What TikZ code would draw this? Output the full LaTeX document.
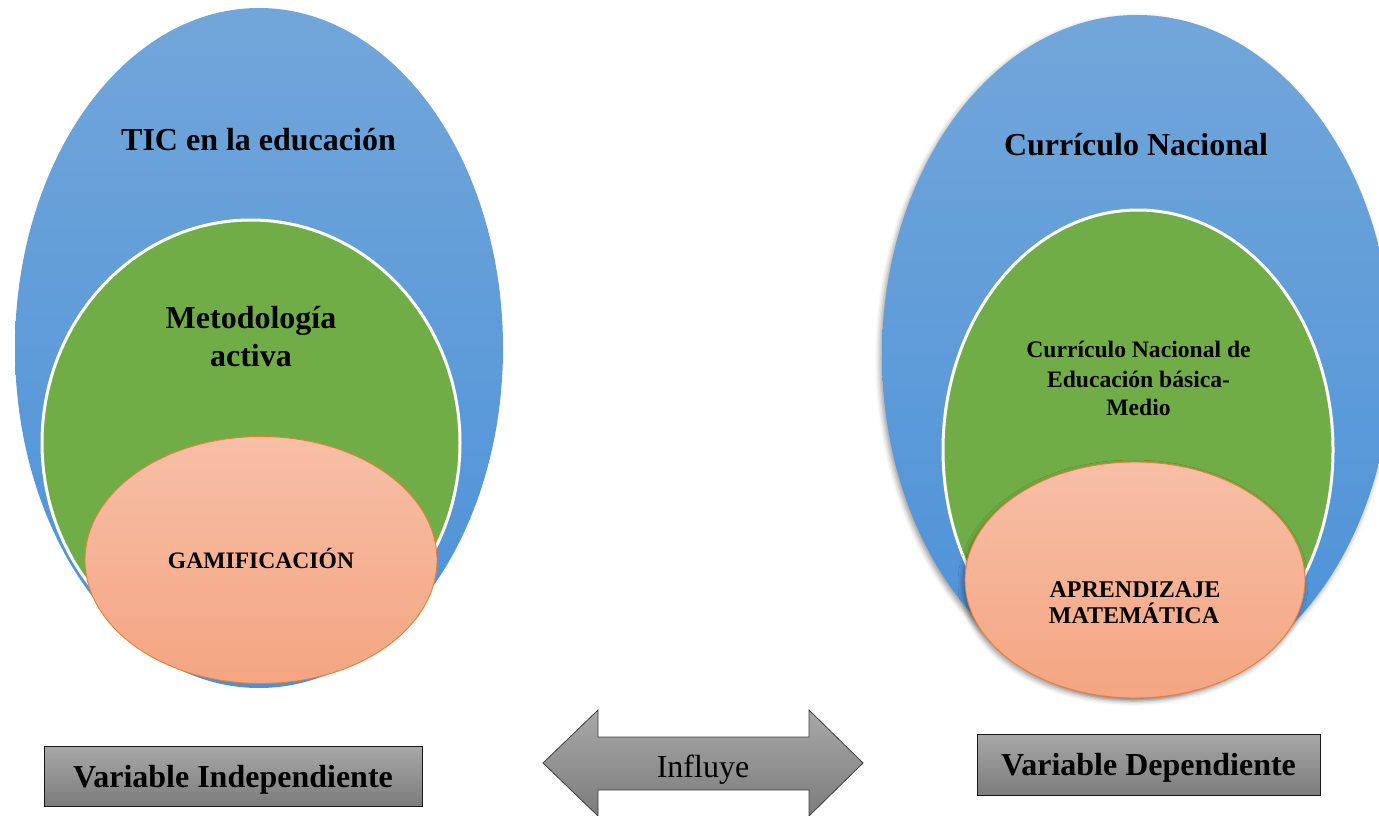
\documentclass[tikz,border=0pt]{standalone}
\usepackage{fontspec}
\setmainfont{Liberation Serif}
\usetikzlibrary{shapes.geometric,shadows.blur}

\definecolor{blueTop}{HTML}{72A6DA}
\definecolor{blueBot}{HTML}{4B91D8}
\definecolor{greenFill}{HTML}{70AD47}
\definecolor{salmonTop}{HTML}{F7BFA7}
\definecolor{salmonBot}{HTML}{F4A581}
\definecolor{orangeLine}{HTML}{ED7D31}
\definecolor{grayTop}{HTML}{A8A8A8}
\definecolor{grayBot}{HTML}{7C7C7C}

\tikzset{
  oval/.style={ellipse, inner sep=0pt, outer sep=0pt},
  outer/.style={oval, top color=blueTop, bottom color=blueBot, draw=none},
  middle/.style={oval, fill=greenFill, draw=white, line width=3pt},
  inner/.style={oval, top color=salmonTop, bottom color=salmonBot, draw=orangeLine, line width=0.9pt},
  soft/.style={blur shadow={shadow xshift=-2pt, shadow yshift=-3pt, shadow blur radius=5pt, shadow opacity=40}},
  bigtxt/.style={anchor=base, font=\bfseries\fontsize{32}{37}\selectfont},
  smalltxt/.style={anchor=base, font=\bfseries\fontsize{24}{28}\selectfont},
  midtxt/.style={anchor=base, font=\bfseries\fontsize{23.6}{28}\selectfont},
  varbox/.style={draw=black!90, line width=1pt, top color=grayTop, bottom color=grayBot, inner sep=0pt},
}

\begin{document}
\begin{tikzpicture}[x=1pt,y=-1pt]
\useasboundingbox (0,0) rectangle (1379,816);
\clip (0,0) rectangle (1379,816);

% independent variable: nested ovals
\node[outer, minimum width=488pt, minimum height=680pt] (tic) at (259,348) {};
\node[middle, minimum width=418pt, minimum height=446pt] (met) at (251,443) {};
\node[inner, minimum width=352pt, minimum height=247pt] (gam) at (261,560) {};

\node[bigtxt] (ticT) at (258.5,150) {TIC en la educación};
\node[bigtxt] (metT1) at (251,328) {Metodología};
\node[bigtxt] (metT2) at (251,366) {activa};
\node[midtxt] (gamT) at (261,568) {GAMIFICACIÓN};

% dependent variable: nested ovals with shadow
\node[outer, soft, minimum width=510pt, minimum height=680pt] (cur) at (1137,355) {};
\node[middle, minimum width=390pt, minimum height=480pt] (cnb) at (1138,450) {};
\node[inner, soft, minimum width=340pt, minimum height=236pt] (apr) at (1135,580) {};

\node[bigtxt] (curT) at (1136,155) {Currículo Nacional};
\node[midtxt] (cnbT1) at (1138.5,357) {Currículo Nacional de};
\node[midtxt] (cnbT2) at (1138.5,387) {Educación básica-};
\node[midtxt] (cnbT3) at (1138.5,415) {Medio};
\node[smalltxt] (aprT1) at (1135,597) {APRENDIZAJE};
\node[smalltxt] (aprT2) at (1134,623) {MATEMÁTICA};

% double-headed arrow
\path[draw=black!75, line width=0.8pt, top color=grayTop, bottom color=grayBot]
  (543,763) -- (598,710) -- (598,737) -- (809,737) -- (809,710) -- (863,763)
  -- (809,816) -- (809,790) -- (598,790) -- (598,816) -- cycle;
\node[anchor=base, font=\fontsize{32}{37}\selectfont, text=black] (inf) at (703,777) {Influye};

% variable labels
\node[varbox, minimum width=378pt, minimum height=60pt] (vi) at (233,776) {};
\node[bigtxt] (viT) at (233,787) {Variable Independiente};
\node[varbox, minimum width=343pt, minimum height=61pt] (vd) at (1148.5,764.5) {};
\node[bigtxt] (vdT) at (1148.5,775) {Variable Dependiente};
\end{tikzpicture}
\end{document}
